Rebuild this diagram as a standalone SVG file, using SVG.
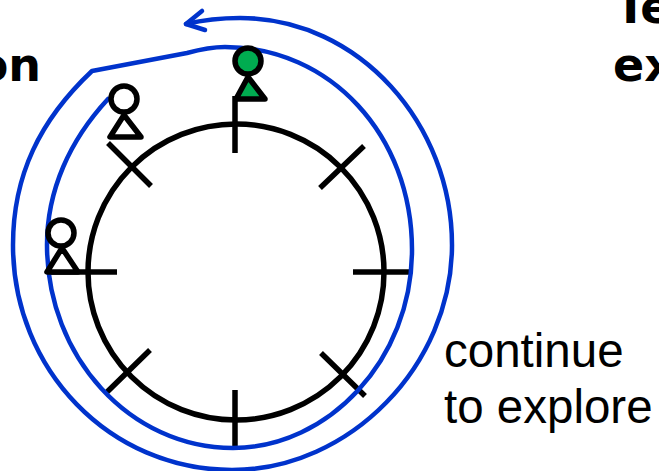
<svg xmlns="http://www.w3.org/2000/svg" width="659" height="471" viewBox="0 0 659 471">
<style>
.k{fill:none;stroke:#000;stroke-width:5.5}
.h{fill:#fff;stroke:#000;stroke-width:5.5;stroke-linejoin:round}
.g{fill:#00ac50;stroke:#000;stroke-width:5.5;stroke-linejoin:round}
.b{fill:none;stroke:#0033cc;stroke-width:4.5;stroke-linecap:round;stroke-linejoin:round}
.t{font-family:"Liberation Sans",Arial,sans-serif;font-size:47.5px;fill:#000}
.s{font-family:"DejaVu Sans","Liberation Sans",sans-serif;font-size:46px;font-weight:bold;fill:#000}
</style>
<rect width="659" height="471" fill="#fff"/>
<g id="ring">
<circle class="k" cx="236" cy="272" r="148"/>
<path class="k" d="M235 96V153M235 390V447M353 272H410M47 272H117M108 143L151 186M320 188L364 146M106 393L150 350M321 353L365 396"/>
</g>
<g id="connectors">
<path class="b" d="M108 99C70 140 47 190 47 245C47 357 130 448 233 448C328 448 412 360 412 250C412 135 330 47 225 47C210 47 198 50 187 53L92 71C40 120 13 175 13 245C13 370 110 470 232 470C350 470 452 365 452 245C452 125 360 18 240 18C220 18 203 20 186 24"/>
<path class="b" d="M202 11L186 24L205 30"/>
</g>
<g id="person-1">
<circle class="g" cx="248" cy="61" r="13"/>
<path class="g" d="M248 77L236 99H265Z"/>
</g>
<g id="person-2">
<circle class="h" cx="124" cy="99" r="13"/>
<path class="h" d="M124 115L110 137H141Z"/>
</g>
<g id="person-3">
<circle class="h" cx="61" cy="233" r="13"/>
<path class="h" d="M62 248L47 272H78Z"/>
</g>
<g id="labels">
<text class="s" x="41" y="81" text-anchor="end">on</text>
<text class="s" x="615" y="23">Te</text>
<text class="s" x="613" y="81">ex</text>
<text class="t" x="444" y="367">continue</text>
<text class="t" x="444" y="423">to explore</text>
</g>
</svg>
